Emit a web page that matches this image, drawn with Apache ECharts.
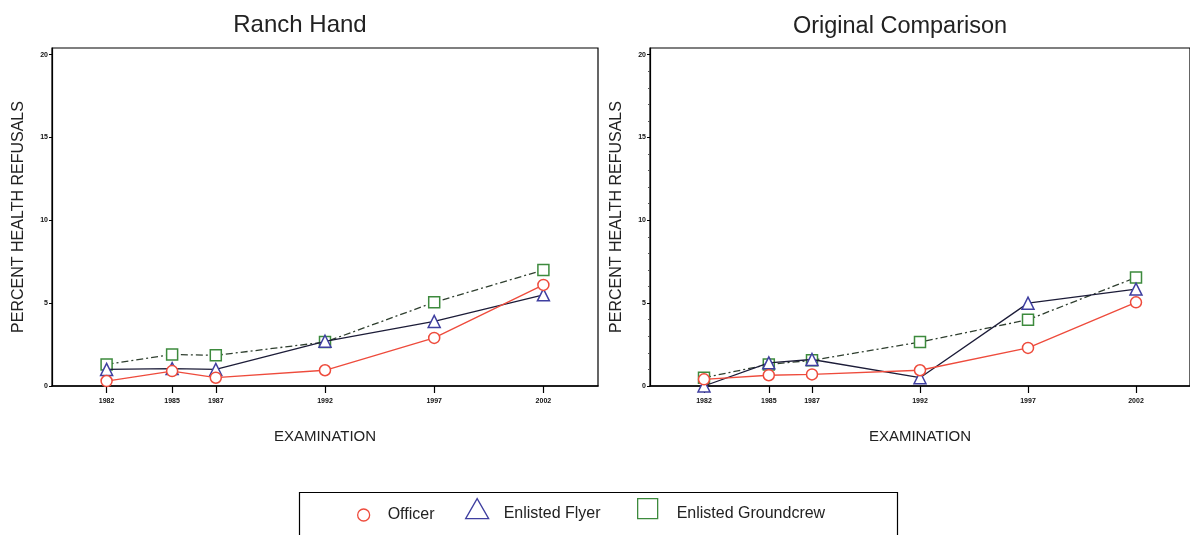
<!DOCTYPE html>
<html>
<head>
<meta charset="utf-8">
<script src="https://cdn.jsdelivr.net/npm/echarts@6/dist/echarts.min.js"></script>
<style>
  html, body { margin: 0; padding: 0; background: #fff; }
  #chart { width: 1190px; height: 535px; }
</style>
</head>
<body>
<div id="chart"></div>
<script>
// Examination years (x positions on a linear year scale)
const years = [1982, 1985, 1987, 1992, 1997, 2002];
const yTicks = [0, 5, 10, 15, 20];

// Percent health refusals, Ranch Hand cohort
const rhOfficer     = [0.3, 0.9, 0.5, 0.95, 2.9, 6.1];
const rhFlyer       = [1.0, 1.05, 1.0, 2.7, 3.9, 5.5];
const rhGroundcrew  = [1.3, 1.9, 1.85, 2.65, 5.05, 7.0];

// Percent health refusals, Original Comparison cohort
const ocOfficer     = [0.4, 0.65, 0.7, 0.95, 2.3, 5.05];
const ocFlyer       = [0.0, 1.4, 1.6, 0.5, 5.0, 5.85];
const ocGroundcrew  = [0.5, 1.3, 1.55, 2.65, 4.0, 6.55];

const panelTitles = ['Ranch Hand', 'Original Comparison'];
const groupNames = ['Officer', 'Enlisted Flyer', 'Enlisted Groundcrew'];

const FONT = '"Liberation Sans", Arial, sans-serif';
const groupStyle = {
  'Officer':             { symbol: 'circle',   mark: '#ee4b3c', line: '#ee4b3c', type: 'solid', size: 11 },
  'Enlisted Flyer':      { symbol: 'triangle', mark: '#3f3fa0', line: '#1c1c38', type: 'solid', size: 12 },
  'Enlisted Groundcrew': { symbol: 'rect',     mark: '#3d8a3d', line: '#2f3f2f', type: [7, 3, 2, 3], size: 11 }
};

const pair = (vals) => years.map((y, i) => [y, vals[i]]);

const panels = [
  [rhOfficer, rhFlyer, rhGroundcrew],
  [ocOfficer, ocFlyer, ocGroundcrew]
];

const grids = [
  { left: 52, top: 48, width: 546, height: 338 },
  { left: 650, top: 48, width: 542, height: 338 }
];

const xAxes = grids.map((g, i) => ({
  type: 'value',
  gridIndex: i,
  min: 1979.5,
  max: 2004.5,
  name: 'EXAMINATION',
  nameLocation: 'middle',
  nameGap: 43,
  nameTextStyle: { fontFamily: FONT, fontSize: 15, color: '#222' },
  axisLine: { show: true, onZero: false, lineStyle: { color: '#000', width: 1.5 } },
  axisTick: { show: true, inside: false, length: 7, customValues: years, lineStyle: { color: '#000', width: 1.2 } },
  axisLabel: {
    customValues: years, fontSize: 7, fontWeight: 'bold', color: '#111', margin: 12, fontFamily: FONT,
    formatter: (v) => String(v)
  },
  splitLine: { show: false }
}));

const yAxes = grids.map((g, i) => ({
  type: 'value',
  gridIndex: i,
  min: 0,
  max: 20.4,
  name: 'PERCENT HEALTH REFUSALS',
  nameLocation: 'middle',
  nameGap: 25,
  nameTextStyle: { fontFamily: FONT, fontSize: 16, color: '#222' },
  axisLine: { show: true, lineStyle: { color: '#000', width: 1.2 } },
  axisTick: { show: true, length: 3, customValues: yTicks, lineStyle: { color: '#000' } },
  minorTick: { show: i === 1, splitNumber: 5, length: 2, lineStyle: { color: '#555' } },
  axisLabel: {
    customValues: yTicks, fontSize: 7, fontWeight: 'bold', color: '#111', margin: 4, fontFamily: FONT,
    formatter: (v) => String(v)
  },
  splitLine: { show: false }
}));

const series = [];
panels.forEach((sets, p) => {
  sets.forEach((vals, k) => {
    const name = groupNames[k];
    const st = groupStyle[name];
    series.push({
      name: name,
      type: 'line',
      xAxisIndex: p,
      yAxisIndex: p,
      data: pair(vals),
      symbol: st.symbol,
      symbolSize: st.size,
      showAllSymbol: true,
      z: 3 - k,
      lineStyle: { color: st.line, width: 1.3, type: st.type },
      itemStyle: { color: '#fff', borderColor: st.mark, borderWidth: 1.5 },
      emphasis: { disabled: true }
    });
  });
});

// One legend entry per group, each placed along a shared framed row
const legendSlots = [
  { name: 'Officer',             icon: 'circle',   left: 357, top: 507, w: 12, h: 12, gap: 13, drop: 0 },
  { name: 'Enlisted Flyer',      icon: 'triangle', left: 465, top: 498, w: 23, h: 20, gap: 10, drop: 10 },
  { name: 'Enlisted Groundcrew', icon: 'rect',     left: 637, top: 498, w: 20, h: 20, gap: 14, drop: 10 }
];
const legends = legendSlots.map(s => ({
  left: s.left,
  top: s.top,
  padding: 0,
  itemWidth: s.w,
  itemHeight: s.h,
  selectedMode: false,
  formatter: (n) => '{t|' + n + '}',
  textStyle: {
    fontFamily: FONT, fontSize: 16, color: '#222',
    rich: { t: { fontFamily: FONT, fontSize: 16, color: '#222', padding: [s.drop, 0, 0, s.gap] } }
  },
  data: [{
    name: s.name,
    icon: s.icon,
    itemStyle: { color: '#fff', borderColor: groupStyle[s.name].mark, borderWidth: 1.3 }
  }]
}));

const chart = echarts.init(document.getElementById('chart'), null, { renderer: 'canvas' });
chart.setOption({
  animation: false,
  backgroundColor: '#fff',
  title: [
    { text: panelTitles[0], left: 295, top: 8, textAlign: 'center',
      textStyle: { fontFamily: FONT, fontSize: 24, fontWeight: 'normal', color: '#222' } },
    { text: panelTitles[1], left: 895, top: 10, textAlign: 'center',
      textStyle: { fontFamily: FONT, fontSize: 23.5, fontWeight: 'normal', color: '#222' } }
  ],
  grid: grids.map(g => Object.assign({ show: true, borderColor: '#000', borderWidth: 1.2, backgroundColor: 'transparent' }, g)),
  xAxis: xAxes,
  yAxis: yAxes,
  legend: legends,
  graphic: [{
    type: 'rect',
    shape: { x: 299.5, y: 492.5, width: 598, height: 60 },
    style: { fill: 'none', stroke: '#000', lineWidth: 1.2 },
    silent: true
  }],
  series: series
});
</script>
</body>
</html>
